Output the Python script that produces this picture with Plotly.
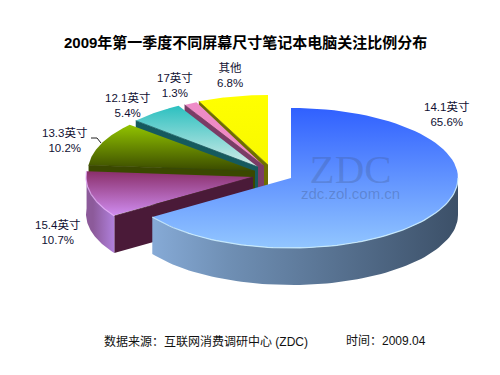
import numpy as np
import plotly.graph_objects as go

TITLE = "2009年第一季度不同屏幕尺寸笔记本电脑关注比例分布"
categories = ["14.1英寸", "15.4英寸", "13.3英寸", "12.1英寸", "17英寸", "其他"]
shares = [65.6, 10.7, 10.2, 5.4, 1.3, 6.8]
watermark_main = "ZDC"
watermark_site = "zdc.zol.com.cn"
source_text = "数据来源：互联网消费调研中心 (ZDC)"
time_text = "时间：2009.04"

# Styling and layout, per slice in the same order as the categories
centers = [(291, 178), (253, 177), (255, 171), (258, 167), (264, 166), (268, 165)]
radii_x = [167, 167, 167, 163, 163, 167]
RY, DEPTH = 70, 37
top_grad = [
    ("#3060ff", "#92c6ff"), ("#8a2f6a", "#cf8cf0"), ("#92c400", "#3a4a00"),
    ("#2cc0c0", "#d4ece8"), ("#ee8cc8", "#ee88c0"), ("#ffff00", "#f8f800"),
]
cut_wall = [None, "#4a1a38", "#3a4800", "#155a5e", "#7a3c66", "#6e6e00"]
outer_wall = {0: ("#86aad6", "#3c5068"), 1: ("#8c5a9a", "#b080dc")}
rim_light = {0: "rgba(205,238,255,0.85)", 1: "rgba(225,170,245,0.85)"}
label_pos = [(446, 114), (57, 232), (64, 140), (127, 105), (175, 85), (230, 75)]


def rim(i, a0, a1, n=80):
    cx, cy = centers[i]
    t = np.radians(np.linspace(a0, a1, n))
    return cx + radii_x[i] * np.sin(t), cy - RY * np.cos(t)


fig = go.Figure()


def poly(x, y, **kw):
    fig.add_trace(go.Scatter(x=list(x), y=list(y), mode="lines", fill="toself",
                             hoverinfo="skip", showlegend=False,
                             line=kw.pop("line", dict(width=0)), **kw))


def stroke(x, y, color, width=1):
    fig.add_trace(go.Scatter(x=list(x), y=list(y), mode="lines",
                             line=dict(color=color, width=width),
                             hoverinfo="skip", showlegend=False))


edges = np.concatenate([[0], np.cumsum(shares)]) * 3.6
# Paint back to front: last category first, the large slice on top
for i in reversed(range(len(shares))):
    a0, a1 = edges[i], edges[i + 1]
    cx, cy = centers[i]
    if cut_wall[i]:
        px, py = rim(i, a0, a0, 1)
        poly([px[0], cx, cx, px[0]], [py[0], cy, cy + DEPTH, py[0] + DEPTH],
             fillcolor=cut_wall[i])
    if i in outer_wall:
        # Only the part of the rim that faces the viewer has a visible wall
        lo = max(a0, 90)
        hi = min(a1, 274.7)
        rx_, ry_ = rim(i, lo, hi)
        c0, c1 = outer_wall[i]
        poly(np.r_[rx_, rx_[::-1]], np.r_[ry_, ry_[::-1] + DEPTH],
             fillgradient=dict(type="horizontal",
                               colorscale=[[0, c0], [0.25, c0 if i else "#6f8fb4"], [1, c1]]))
    ex, ey = rim(i, a0, a1)
    c0, c1 = top_grad[i]
    # Plotly's vertical gradient runs from the bottom of the shape to its top
    poly(np.r_[cx, ex, cx], np.r_[cy, ey, cy],
         fillgradient=dict(type="vertical", colorscale=[[0, c1], [1, c0]]))
    if cut_wall[i]:
        # Seal the seam between the top face and its cut wall
        stroke([px[0], cx], [py[0], cy], cut_wall[i], 0.8)
    if i in rim_light:
        stroke(rx_, ry_, rim_light[i], 1.2)

# The leader line of the 13.3 inch label
stroke([91, 97, 101], [138, 138, 143], "#222222", 1)

SANS = "Liberation Sans, Noto Sans CJK SC, sans-serif"
watermark = (
    f'<span style="font-size:41px;font-family:Liberation Serif;color:rgba(60,80,120,0.25)">{watermark_main}</span>'
    f'<br><span style="font-size:15px;color:rgba(60,80,120,0.32)">{watermark_site}</span>'
)
ann = [
    dict(x=245.5, y=42, text=f"<b>{TITLE}</b>", font=dict(size=15, color="#000000", family=SANS)),
    dict(x=102, y=341, xanchor="left", text=source_text, font=dict(size=12, color="#111111", family=SANS)),
    dict(x=344, y=341, xanchor="left", text=time_text, font=dict(size=12, color="#111111", family=SANS)),
    dict(x=350, y=204, yanchor="bottom", yshift=0, text=watermark, font=dict(size=12, family=SANS)),
]
for (lx, ly), c, s in zip(label_pos, categories, shares):
    ann.append(dict(x=lx, y=ly, text=f"{c}<br>{s}%",
                    font=dict(size=11.5, color="#111133", family=SANS)))

fig.update_layout(
    width=500, height=375, margin=dict(l=0, r=0, t=0, b=0),
    paper_bgcolor="white", plot_bgcolor="white", showlegend=False,
    xaxis=dict(range=[0, 500], visible=False, fixedrange=True),
    yaxis=dict(range=[375, 0], visible=False, fixedrange=True),
    annotations=[dict(a, xref="x", yref="y", showarrow=False) for a in ann],
)
fig.write_html("out.html", config=dict(displayModeBar=False),
               post_script="document.body.style.margin='0';document.documentElement.style.overflow='hidden';")
